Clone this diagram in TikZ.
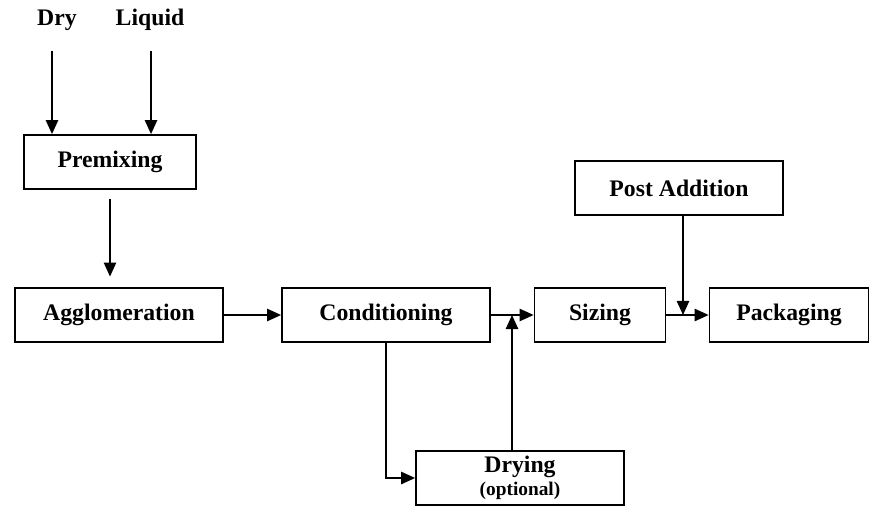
\documentclass[tikz,border=0pt]{standalone}
\usepackage{fontspec}
\setmainfont{Liberation Serif}
\usetikzlibrary{arrows.meta}

\begin{document}
\begin{tikzpicture}[x=0.02cm, y=-0.02cm,
        stage/.style={draw, line width=1pt, minimum height=1.08cm, inner sep=0pt,
            font=\fontsize{13.5}{15}\selectfont\bfseries},
        feed/.style={font=\fontsize{13.5}{15}\selectfont\bfseries},
        flow/.style={line width=1pt, -{Triangle[length=8pt, width=7pt]}}]
        \useasboundingbox (0, 0) rectangle (871, 506);

        % Raw material inputs
        \node[feed] (dry) at (57, 20) {Dry};
        \node[feed] (liquid) at (150, 20) {Liquid};

        % Process stages
        \node[stage, minimum width=3.44cm] (premix) at (110, 162) {Premixing};
        \node[stage, minimum width=4.16cm] (agglo) at (119, 315) {Agglomeration};
        \node[stage, minimum width=4.16cm] (cond) at (386, 315) {Conditioning};
        \node[stage, minimum width=2.62cm] (sizing) at (600, 315) {Sizing};
        \node[stage, minimum width=3.18cm] (pack) at (789, 315) {Packaging};
        \node[stage, minimum width=4.16cm] (post) at (679, 188) {Post Addition};
        \node[stage, minimum width=4.16cm, align=center] (drying) at (520, 478)
            {Drying\\[-2pt]{\fontsize{11}{12}\selectfont(optional)}};

        % Junctions on the main line
        \coordinate (j1) at (512, 315);
        \coordinate (j2) at (683, 315);

        % Inputs into premixing
        \draw[flow] ([shift={(-5, 14)}]dry.south) -- (premix.north -| 52, 0);
        \draw[flow] ([shift={(1, 14)}]liquid.south) -- (premix.north -| 151, 0);

        % Main flow
        \draw[flow, shorten <=5pt, shorten >=6pt] (premix) -- (premix |- agglo.north);
        \draw[flow] (agglo) -- (cond);
        \draw[flow] (cond) -- (sizing);
        \draw[flow] (sizing) -- (pack);

        % Optional drying loop
        \draw[flow] (cond.south) |- (drying.west);
        \draw[flow] (drying.north -| j1) -- (j1);

        % Post addition joins before packaging
        \draw[flow] (post.south -| j2) -- (j2);
\end{tikzpicture}
\end{document}
